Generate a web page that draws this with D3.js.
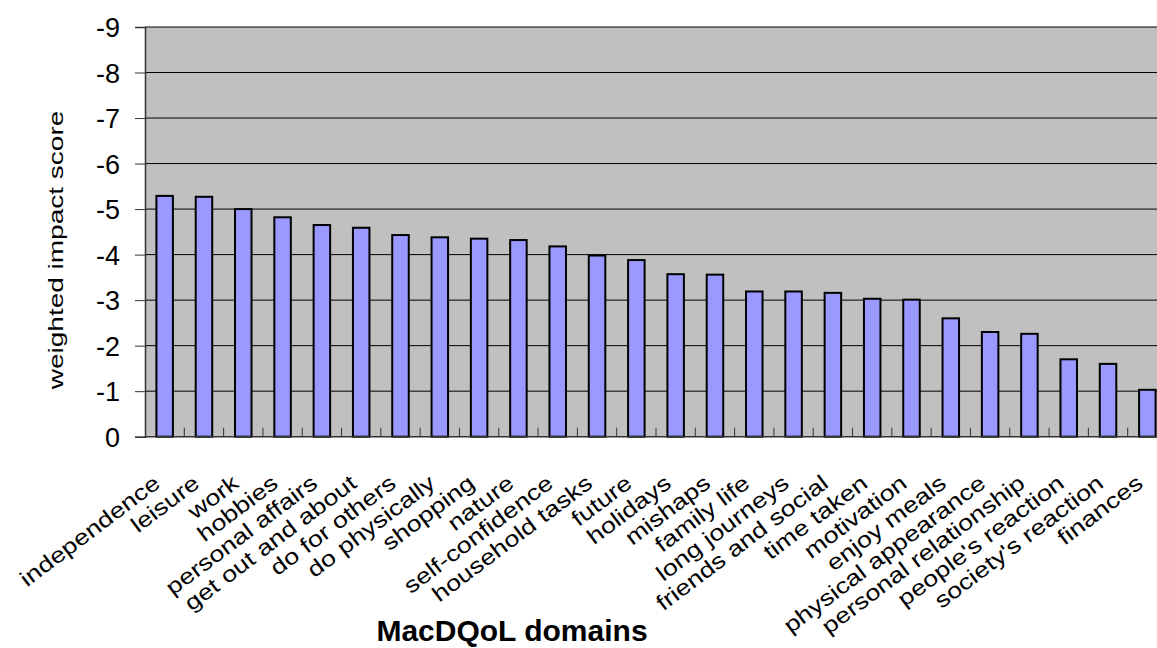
<!DOCTYPE html>
<html>
<head>
<meta charset="utf-8">
<script src="https://cdn.jsdelivr.net/npm/d3@7"></script>
<style>
  body { margin: 0; background: #fff; }
  text { font-family: "Liberation Sans", Arial, sans-serif; fill: #000; }
</style>
</head>
<body>
<script>
// data
var domains = ["independence", "leisure", "work", "hobbies", "personal affairs",
    "get out and about", "do for others", "do physically", "shopping", "nature",
    "self-confidence", "household tasks", "future", "holidays", "mishaps",
    "family life", "long journeys", "friends and social", "time taken", "motivation",
    "enjoy meals", "physical appearance", "personal relationship", "people's reaction",
    "society's reaction", "finances"];
var scores = [-5.29, -5.27, -5.0, -4.82, -4.65, -4.59, -4.43, -4.38, -4.35, -4.32,
    -4.18, -3.98, -3.88, -3.57, -3.56, -3.19, -3.19, -3.16, -3.03, -3.01,
    -2.60, -2.30, -2.26, -1.70, -1.60, -1.03];
var yTicks = [0, -1, -2, -3, -4, -5, -6, -7, -8, -9];

var width = 1157, height = 648;
var plotL = 145, plotR = 1167, plotT = 27, plotB = 436.7;

var svg = d3.select("body")
        .append("svg")
        .attr("width", width)
        .attr("height", height);

var x = d3.scaleBand()
        .domain(domains)
        .range([plotL, plotR]);

var y = d3.scaleLinear()
        .domain([0, -9])
        .range([plotB, plotT]);

// plot area
svg.append("rect")
        .attr("x", plotL)
        .attr("y", plotT)
        .attr("width", plotR - plotL)
        .attr("height", plotB - plotT)
        .attr("fill", "#c0c0c0");

// gridlines
svg.selectAll("line.grid")
        .data(yTicks.slice(1))
        .enter()
        .append("line")
        .attr("class", "grid")
        .attr("x1", plotL)
        .attr("x2", plotR)
        .attr("y1", function(d) { return y(d); })
        .attr("y2", function(d) { return y(d); })
        .attr("stroke", "#000")
        .attr("stroke-width", 1);

// bars
var barW = x.bandwidth() * 0.42;
svg.selectAll("rect.bar")
        .data(scores)
        .enter()
        .append("rect")
        .attr("class", "bar")
        .attr("x", function(d, i) { return x(domains[i]) + (x.bandwidth() - barW) / 2; })
        .attr("y", function(d) { return y(d); })
        .attr("width", barW)
        .attr("height", function(d) { return y(0) - y(d); })
        .attr("fill", "#9999ff")
        .attr("stroke", "#000")
        .attr("stroke-width", 2);

// category axis: baseline + inner ticks between bars
svg.append("line")
        .attr("x1", plotL)
        .attr("x2", plotR)
        .attr("y1", plotB)
        .attr("y2", plotB)
        .attr("stroke", "#333")
        .attr("stroke-width", 1.5);

svg.selectAll("line.ctick")
        .data(domains.slice(1))
        .enter()
        .append("line")
        .attr("class", "ctick")
        .attr("x1", function(d) { return x(d); })
        .attr("x2", function(d) { return x(d); })
        .attr("y1", plotB - 9)
        .attr("y2", plotB)
        .attr("stroke", "#333")
        .attr("stroke-width", 1);

svg.selectAll("text.cat")
        .data(domains)
        .enter()
        .append("text")
        .attr("class", "cat")
        .attr("text-anchor", "end")
        .attr("font-size", 22)
        .attr("transform", function(d) {
            var cx = x(d) + x.bandwidth() / 2;
            return "translate(" + (cx - 3) + ",486) rotate(-37) scale(1.22,1)";
        })
        .text(function(d) { return d; });

// value axis
var yAxis = svg.append("g")
        .attr("transform", "translate(" + plotL + ",0)")
        .call(d3.axisLeft(y)
            .tickValues(yTicks)
            .tickSize(10)
            .tickFormat(function(d) { return String(d); }));

yAxis.select(".domain").attr("stroke", "#333").attr("stroke-width", 1.5);
yAxis.selectAll(".tick line").attr("stroke", "#333");
yAxis.selectAll(".tick text")
        .attr("x", 0)
        .attr("dy", "0.36em")
        .attr("font-size", 27)
        .attr("font-family", "Liberation Sans, Arial, sans-serif")
        .attr("transform", "translate(-25,0)");

// titles
svg.append("text")
        .attr("text-anchor", "middle")
        .attr("font-size", 20)
        .attr("transform", "translate(63,250) rotate(-90) scale(1.4,1)")
        .text("weighted impact score");

svg.append("text")
        .attr("x", 512)
        .attr("y", 641)
        .attr("text-anchor", "middle")
        .attr("font-size", 30)
        .attr("font-weight", "bold")
        .text("MacDQoL domains");
</script>
</body>
</html>
